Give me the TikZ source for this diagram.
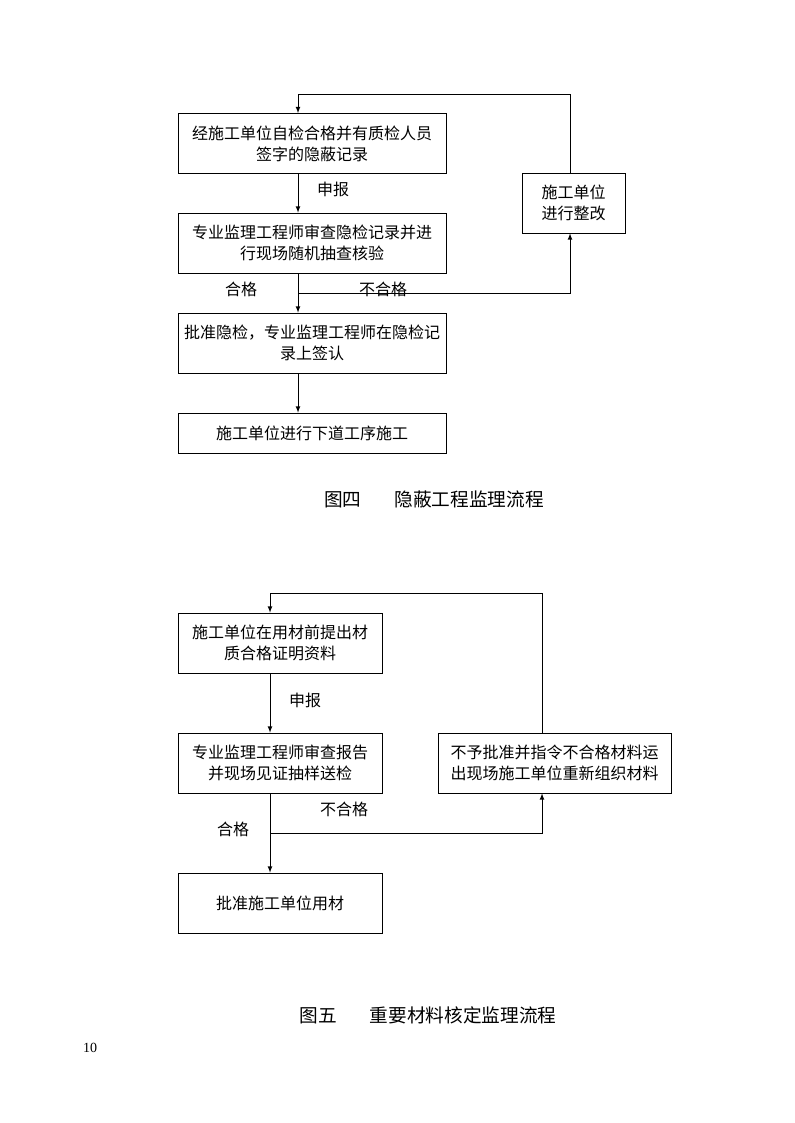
\documentclass[tikz,border=0pt]{standalone}
\usepackage{fontspec}
\setmainfont{Noto Sans CJK SC}
\newfontfamily\numfont{Liberation Serif}
\usetikzlibrary{arrows}

\tikzset{
 box/.style={draw, line width=0.6pt, inner sep=0pt, align=center, font=\fontsize{12}{15.75}\selectfont},
 lbl/.style={font=\fontsize{12}{15}\selectfont, inner sep=0pt},
 flow/.style={-latex, line width=0.6pt},
 figcap/.style={font=\fontsize{14}{16}\selectfont, inner sep=0pt},
}

\begin{document}
\begin{tikzpicture}[x=0.75pt, y=-0.75pt]
\useasboundingbox (0,0) rectangle (794,1123);

%figure four
\node[box, minimum width=201pt, minimum height=45pt] (chk) at (312,143.5) {经施工单位自检合格并有质检人员\\签字的隐蔽记录};
\node[box, minimum width=201pt, minimum height=45pt] (rev) at (312,243) {专业监理工程师审查隐检记录并进\\行现场随机抽查核验};
\node[box, minimum width=201pt, minimum height=45pt] (ok) at (312,343) {批准隐检，专业监理工程师在隐检记\\录上签认};
\node[box, minimum width=201pt, minimum height=30pt] (next) at (312,433) {施工单位进行下道工序施工};
\node[box, minimum width=77.25pt, minimum height=45pt] (fix) at (573.5,203) {施工单位\\进行整改};

\coordinate (t1) at (570,94);
\coordinate (n1) at (298,293);
\draw[flow] (chk.south -| n1) -- (rev.north -| n1) node[lbl, pos=0.4, right=14pt] {申报};
\draw[flow] (rev.south -| n1) -- (ok.north -| n1);
\draw[flow] (ok.south -| n1) -- (next.north -| n1);
\draw[flow] (n1) -| (fix.south -| t1);
\draw[flow] (fix.north -| t1) -- (t1) -| (chk.north -| n1);
\node[lbl] (pass1) at (241,289) {合格};
\node[lbl] (fail1) at (383,289) {不合格};

\node[figcap] (cap4) at (434,499) {图四\hspace{25pt}隐蔽工程监理流程};

%figure five
\node[box, minimum width=153pt, minimum height=45pt] (mat) at (280,643) {施工单位在用材前提出材\\质合格证明资料};
\node[box, minimum width=153pt, minimum height=45pt] (test) at (280,763) {专业监理工程师审查报告\\并现场见证抽样送检};
\node[box, minimum width=153pt, minimum height=45pt] (use) at (280,903) {批准施工单位用材};
\node[box, minimum width=174.75pt, minimum height=45pt] (rej) at (554.5,763) {不予批准并指令不合格材料运\\出现场施工单位重新组织材料};

\coordinate (t2) at (542,593);
\coordinate (n2) at (270,833);
\draw[flow] (mat.south -| n2) -- (test.north -| n2) node[lbl, pos=0.45, right=14pt] {申报};
\draw[flow] (test.south -| n2) -- (use.north -| n2);
\draw[flow] (n2) -| (rej.south -| t2);
\draw[flow] (rej.north -| t2) -- (t2) -| (mat.north -| n2);
\node[lbl] (fail2) at (344,809) {不合格};
\node[lbl] (pass2) at (233,829) {合格};

\node[figcap] (cap5) at (428,1015) {图五\hspace{25pt}重要材料核定监理流程};

\node[font=\numfont\fontsize{10.5}{12}\selectfont, inner sep=0pt] (page) at (90,1048) {10};
\end{tikzpicture}
\end{document}
